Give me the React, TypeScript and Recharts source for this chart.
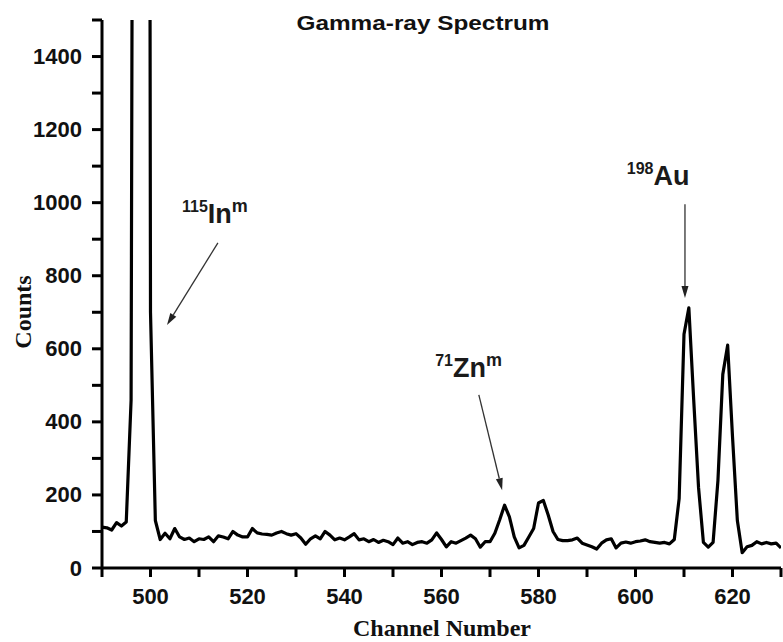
import { LineChart, Line, XAxis, YAxis, ReferenceLine, ReferenceDot } from 'recharts';

const channels = [
  490, 491, 492, 493, 494, 495, 496, 497, 498, 499,
  500, 501, 502, 503, 504, 505, 506, 507, 508, 509,
  510, 511, 512, 513, 514, 515, 516, 517, 518, 519,
  520, 521, 522, 523, 524, 525, 526, 527, 528, 529,
  530, 531, 532, 533, 534, 535, 536, 537, 538, 539,
  540, 541, 542, 543, 544, 545, 546, 547, 548, 549,
  550, 551, 552, 553, 554, 555, 556, 557, 558, 559,
  560, 561, 562, 563, 564, 565, 566, 567, 568, 569,
  570, 571, 572, 573, 574, 575, 576, 577, 578, 579,
  580, 581, 582, 583, 584, 585, 586, 587, 588, 589,
  590, 591, 592, 593, 594, 595, 596, 597, 598, 599,
  600, 601, 602, 603, 604, 605, 606, 607, 608, 609,
  610, 611, 612, 613, 614, 615, 616, 617, 618, 619,
  620, 621, 622, 623, 624, 625, 626, 627, 628, 629,
  630,
];

const counts = [
  112, 110, 104, 124, 115, 126, 460, 6000, 14000, 9500,
  700, 130, 78, 95, 80, 108, 85, 78, 82, 72,
  80, 78, 85, 72, 88, 85, 80, 100, 90, 85,
  85, 108, 96, 93, 92, 90, 96, 100, 94, 90,
  94, 82, 65, 80, 88, 80, 100, 90, 77, 82,
  77, 85, 94, 77, 80, 72, 78, 70, 76, 72,
  64, 82, 68, 72, 64, 70, 72, 68, 77, 96,
  78, 58, 72, 68, 75, 82, 90, 80, 57, 72,
  72, 95, 132, 172, 140, 85, 55, 62, 85, 108,
  178, 185, 145, 100, 78, 75, 75, 77, 82, 68,
  63, 58, 52, 68, 77, 80, 55, 68, 71, 68,
  72, 74, 77, 72, 70, 68, 70, 66, 78, 190,
  640, 712, 460, 220, 70, 57, 70, 240, 530, 610,
  360, 130, 42, 58, 62, 72, 66, 70, 66, 68,
  55,
];

const xTicks = [490, 500, 510, 520, 530, 540, 550, 560, 570, 580, 590, 600, 610, 620, 630];
const xLabelled = [500, 520, 540, 560, 580, 600, 620];
const yTicks = [0, 100, 200, 300, 400, 500, 600, 700, 800, 900, 1000, 1100, 1200, 1300, 1400, 1500];
const yLabelled = [0, 200, 400, 600, 800, 1000, 1200, 1400];

// arrow tail -> head, in (channel, counts)
const peakArrows = [
  { id: 'in', from: [513.9, 890], to: [503.4, 665] },
  { id: 'zn', from: [567.7, 474], to: [572.5, 213] },
  { id: 'au', from: [610.2, 996], to: [610.2, 739] },
];

// label anchor = left edge / baseline of the element symbol
const peakLabels = [
  { id: 'in', channel: 506.5, count: 944, mass: '115', symbol: 'In', meta: 'm' },
  { id: 'zn', channel: 558.7, count: 523, mass: '71', symbol: 'Zn', meta: 'm' },
  { id: 'au', channel: 598.2, count: 1048, mass: '198', symbol: 'Au', meta: '' },
];

const data = channels.map((channel, i) => ({ channel, counts: counts[i] }));

const SANS = '"Liberation Sans", Arial, sans-serif';
const SERIF = '"Liberation Serif", "Times New Roman", serif';

function YTick({ x, y, payload }: any) {
  if (!yLabelled.includes(payload.value)) return <g />;
  return (
    <text x={x} y={y} textAnchor="end" dominantBaseline="central"
      fontFamily={SANS} fontWeight="bold" fontSize={22} fill="#111">
      {payload.value}
    </text>
  );
}

function XTick({ x, y, payload }: any) {
  if (!xLabelled.includes(payload.value)) return <g />;
  return (
    <text x={x} y={y + 19} textAnchor="middle" dominantBaseline="central"
      fontFamily={SANS} fontWeight="bold" fontSize={22} fill="#111">
      {payload.value}
    </text>
  );
}

function Arrow({ x1, y1, x2, y2 }: any) {
  const ang = Math.atan2(y2 - y1, x2 - x1);
  const len = 12;
  const half = 3.5;
  const bx = x2 - len * Math.cos(ang);
  const by = y2 - len * Math.sin(ang);
  const px = -Math.sin(ang) * half;
  const py = Math.cos(ang) * half;
  return (
    <g>
      <line x1={x1} y1={y1} x2={bx} y2={by} stroke="#333" strokeWidth={1.3} />
      <polygon points={`${x2},${y2} ${bx + px},${by + py} ${bx - px},${by - py}`} fill="#222" />
    </g>
  );
}

function IsotopeLabel({ cx, cy, mass, symbol, meta }: any) {
  return (
    <text x={cx} y={cy} fontFamily={SANS} fontWeight="bold" fill="#1a1a1a">
      <tspan fontSize={16} dy={-11}>{mass}</tspan>
      <tspan fontSize={27} dy={11}>{symbol}</tspan>
      {meta && <tspan fontSize={18} dy={-11}>{meta}</tspan>}
    </text>
  );
}

const axisStroke = { stroke: '#000', strokeWidth: 3 };

export default function App() {
  return (
    <div style={{ position: 'absolute', left: 0, top: 0, width: 783, height: 642, background: '#fff' }}>
      <LineChart width={783} height={642} data={data} margin={{ top: 20, right: 2, left: 32, bottom: 24 }}>
        <XAxis type="number" dataKey="channel" domain={[490, 630]} ticks={xTicks} height={50}
          stroke="#000" strokeWidth={3} axisLine={axisStroke} tickLine={axisStroke} tickSize={9} tickMargin={0}
          tick={<XTick />} interval={0} allowDataOverflow />
        <YAxis type="number" domain={[0, 1500]} ticks={yTicks} width={70}
          stroke="#000" strokeWidth={3} axisLine={axisStroke} tickLine={axisStroke} tickSize={10} tickMargin={10}
          tick={<YTick />} interval={0} allowDataOverflow />
        <Line type="linear" dataKey="counts" stroke="#000" strokeWidth={3.2} strokeLinejoin="round"
          dot={false} activeDot={false} isAnimationActive={false} />
        {peakArrows.map(a => (
          <ReferenceLine key={a.id} segment={[{ x: a.from[0], y: a.from[1] }, { x: a.to[0], y: a.to[1] }]}
            shape={(p: any) => <Arrow {...p} />} ifOverflow="visible" />
        ))}
        {peakLabels.map(l => (
          <ReferenceDot key={l.id} x={l.channel} y={l.count} r={0} ifOverflow="visible"
            shape={(p: any) => <IsotopeLabel cx={p.cx} cy={p.cy} {...l} />} />
        ))}
        <text x={423} y={30} textAnchor="middle" fontFamily={SANS} fontWeight="bold" fontSize={20}
          textLength={253} lengthAdjust="spacingAndGlyphs" fill="#111">Gamma-ray Spectrum</text>
        <text x={442} y={636} textAnchor="middle" fontFamily={SERIF} fontWeight="bold" fontSize={24}
          fill="#111">Channel Number</text>
        <text x={23} y={312} textAnchor="middle" dominantBaseline="central" transform="rotate(-90 23 312)"
          fontFamily={SERIF} fontWeight="bold" fontSize={24} fill="#111">Counts</text>
      </LineChart>
    </div>
  );
}
